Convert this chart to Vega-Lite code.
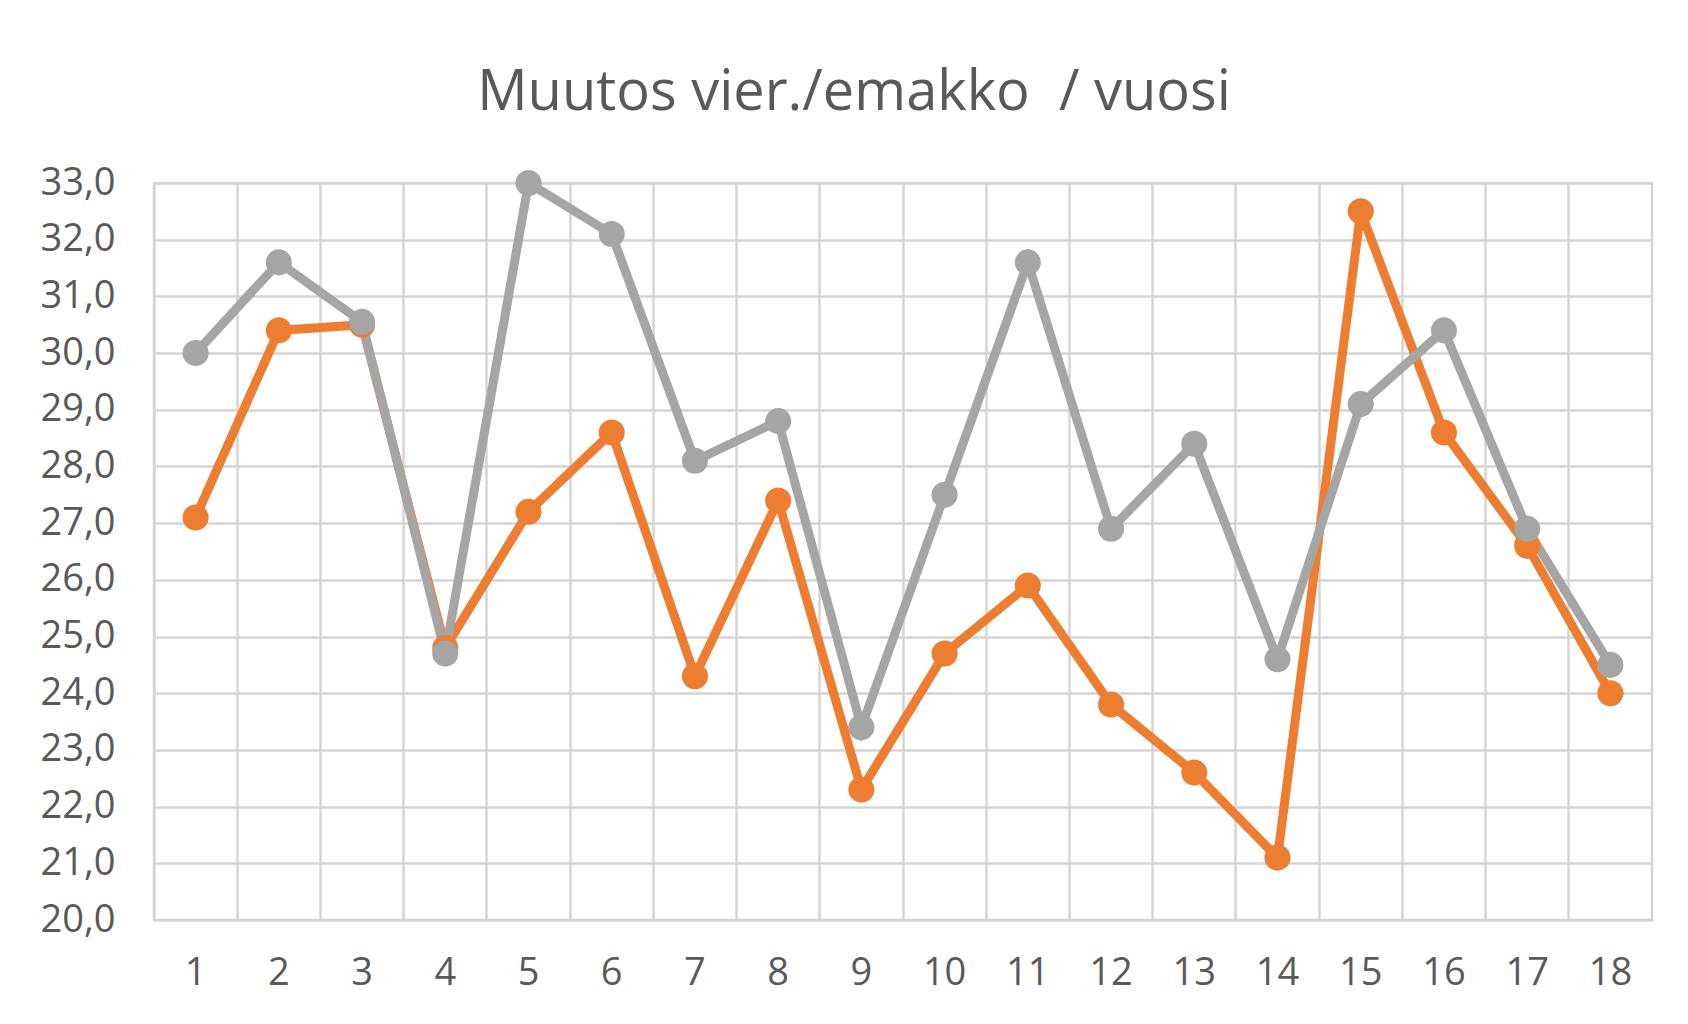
{
  "$schema": "https://vega.github.io/schema/vega-lite/v6.json",
  "width": 1498,
  "height": 737,
  "autosize": "none",
  "padding": {"left": 154, "top": 183, "right": 36, "bottom": 104},
  "background": "white",
  "title": {
    "text": "Muutos vier./emakko\u00a0 / vuosi",
    "font": "Open Sans",
    "fontSize": 56,
    "fontWeight": "normal",
    "color": "#595959",
    "frame": "group",
    "anchor": "middle",
    "dx": -49,
    "baseline": "alphabetic",
    "offset": -2
  },
  "config": {
    "view": {"stroke": "#D4D4D4", "strokeWidth": 2.5}
  },
  "data": {
    "values": [
      {"x": 1, "series": "Sarja 2", "value": 27.1},
      {"x": 2, "series": "Sarja 2", "value": 30.4},
      {"x": 3, "series": "Sarja 2", "value": 30.5},
      {"x": 4, "series": "Sarja 2", "value": 24.8},
      {"x": 5, "series": "Sarja 2", "value": 27.2},
      {"x": 6, "series": "Sarja 2", "value": 28.6},
      {"x": 7, "series": "Sarja 2", "value": 24.3},
      {"x": 8, "series": "Sarja 2", "value": 27.4},
      {"x": 9, "series": "Sarja 2", "value": 22.3},
      {"x": 10, "series": "Sarja 2", "value": 24.7},
      {"x": 11, "series": "Sarja 2", "value": 25.9},
      {"x": 12, "series": "Sarja 2", "value": 23.8},
      {"x": 13, "series": "Sarja 2", "value": 22.6},
      {"x": 14, "series": "Sarja 2", "value": 21.1},
      {"x": 15, "series": "Sarja 2", "value": 32.5},
      {"x": 16, "series": "Sarja 2", "value": 28.6},
      {"x": 17, "series": "Sarja 2", "value": 26.6},
      {"x": 18, "series": "Sarja 2", "value": 24.0},
      {"x": 1, "series": "Sarja 3", "value": 30.0},
      {"x": 2, "series": "Sarja 3", "value": 31.6},
      {"x": 3, "series": "Sarja 3", "value": 30.55},
      {"x": 4, "series": "Sarja 3", "value": 24.7},
      {"x": 5, "series": "Sarja 3", "value": 33.0},
      {"x": 6, "series": "Sarja 3", "value": 32.1},
      {"x": 7, "series": "Sarja 3", "value": 28.1},
      {"x": 8, "series": "Sarja 3", "value": 28.8},
      {"x": 9, "series": "Sarja 3", "value": 23.4},
      {"x": 10, "series": "Sarja 3", "value": 27.5},
      {"x": 11, "series": "Sarja 3", "value": 31.6},
      {"x": 12, "series": "Sarja 3", "value": 26.9},
      {"x": 13, "series": "Sarja 3", "value": 28.4},
      {"x": 14, "series": "Sarja 3", "value": 24.6},
      {"x": 15, "series": "Sarja 3", "value": 29.1},
      {"x": 16, "series": "Sarja 3", "value": 30.4},
      {"x": 17, "series": "Sarja 3", "value": 26.9},
      {"x": 18, "series": "Sarja 3", "value": 24.5}
    ]
  },
  "encoding": {
    "x": {
      "field": "x",
      "type": "ordinal",
      "scale": {"type": "band", "paddingInner": 0, "paddingOuter": 0},
      "axis": {
        "bandPosition": 0,
        "grid": true,
        "gridColor": "#D4D4D4",
        "gridWidth": 2.5,
        "ticks": false,
        "domain": false,
        "labelAngle": 0,
        "labelFont": "Open Sans",
        "labelFontSize": 38,
        "labelColor": "#595959",
        "labelPadding": 34,
        "title": null
      }
    },
    "y": {
      "field": "value",
      "type": "quantitative",
      "scale": {"domain": [20, 33], "nice": false, "zero": false},
      "axis": {
        "values": [20, 21, 22, 23, 24, 25, 26, 27, 28, 29, 30, 31, 32, 33],
        "labelExpr": "replace(format(datum.value, '.1f'), '.', ',')",
        "grid": true,
        "gridColor": "#D4D4D4",
        "gridWidth": 2.5,
        "ticks": false,
        "domain": false,
        "labelFont": "Open Sans",
        "labelFontSize": 38,
        "labelColor": "#595959",
        "labelPadding": 39,
        "title": null
      }
    },
    "color": {
      "field": "series",
      "type": "nominal",
      "scale": {"domain": ["Sarja 2", "Sarja 3"], "range": ["#ED7D31", "#A5A5A5"]},
      "legend": null
    }
  },
  "layer": [
    {"mark": {"type": "line", "strokeWidth": 9}},
    {"mark": {"type": "point", "filled": true, "size": 680, "opacity": 1}}
  ]
}
